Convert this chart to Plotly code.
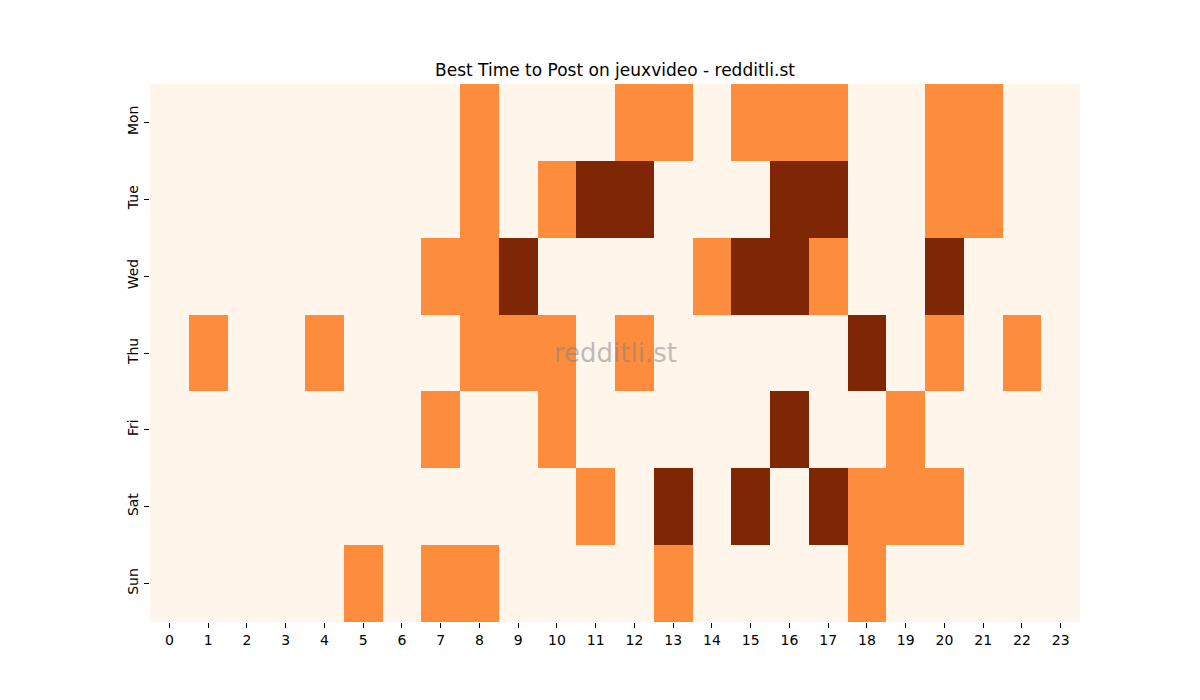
import plotly.graph_objects as go

# ----------------------------------------------------------
# Data: activity level per day / hour (0 low, 1 mid, 2 high)
# ----------------------------------------------------------

days = ["Mon", "Tue", "Wed", "Thu", "Fri", "Sat", "Sun"]
hours = list(range(24))

mon = [0, 0, 0, 0, 0, 0, 0, 0, 1, 0, 0, 0, 1, 1, 0, 1, 1, 1, 0, 0, 1, 1, 0, 0]
tue = [0, 0, 0, 0, 0, 0, 0, 0, 1, 0, 1, 2, 2, 0, 0, 0, 2, 2, 0, 0, 1, 1, 0, 0]
wed = [0, 0, 0, 0, 0, 0, 0, 1, 1, 2, 0, 0, 0, 0, 1, 2, 2, 1, 0, 0, 2, 0, 0, 0]
thu = [0, 1, 0, 0, 1, 0, 0, 0, 1, 1, 1, 0, 1, 0, 0, 0, 0, 0, 2, 0, 1, 0, 1, 0]
fri = [0, 0, 0, 0, 0, 0, 0, 1, 0, 0, 1, 0, 0, 0, 0, 0, 2, 0, 0, 1, 0, 0, 0, 0]
sat = [0, 0, 0, 0, 0, 0, 0, 0, 0, 0, 0, 1, 0, 2, 0, 2, 0, 2, 1, 1, 1, 0, 0, 0]
sun = [0, 0, 0, 0, 0, 1, 0, 1, 1, 0, 0, 0, 0, 1, 0, 0, 0, 0, 1, 0, 0, 0, 0, 0]

z = [mon, tue, wed, thu, fri, sat, sun]

oranges = [[0.0, "#fff5eb"], [0.5, "#fd8d3c"], [1.0, "#7f2704"]]

fig = go.Figure(
    go.Heatmap(
        x=hours,
        y=days,
        z=z,
        zmin=0,
        zmax=2,
        colorscale=oranges,
        showscale=False,
        xgap=0,
        ygap=0,
    )
)

font = "DejaVu Sans, Liberation Sans, sans-serif"

# the page adds an 8px body margin, so the margins are shifted by that much
fig.update_layout(
    width=1200,
    height=700,
    margin=dict(l=142, r=128, t=76, b=86),
    paper_bgcolor="white",
    plot_bgcolor="white",
    font=dict(family=font, size=14, color="black"),
    title=dict(
        text="Best Time to Post on jeuxvideo - redditli.st",
        x=(615 - 8) / 1200,
        xanchor="center",
        yref="container",
        y=1 - 62 / 700,
        yanchor="middle",
        font=dict(size=17, color="black"),
    ),
    annotations=[
        dict(
            text="redditli.st",
            x=0.5,
            y=0.5,
            xref="paper",
            yref="paper",
            showarrow=False,
            font=dict(size=26, color="rgba(128,128,128,0.5)"),
        )
    ],
)

fig.update_xaxes(
    tickmode="array",
    tickvals=hours,
    ticktext=[str(h) for h in hours],
    ticks="outside",
    ticklen=5,
    tickcolor="black",
    showgrid=False,
    zeroline=False,
    showline=False,
)

fig.update_yaxes(
    autorange="reversed",
    tickangle=-90,
    ticks="outside",
    ticklen=5,
    tickcolor="black",
    showgrid=False,
    zeroline=False,
    showline=False,
)

fig.write_html("out.html")
